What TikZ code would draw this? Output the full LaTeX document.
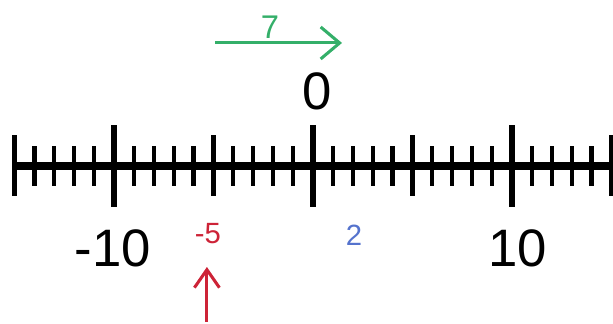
\documentclass[tikz,border=0pt]{standalone}
\usepackage{fontspec}
\setmainfont{Liberation Sans}
\usetikzlibrary{arrows.meta}
\definecolor{stepgreen}{RGB}{52,175,105}
\definecolor{startred}{RGB}{205,35,55}
\definecolor{endblue}{RGB}{85,115,205}

\begin{document}
\begin{tikzpicture}[x=0.597cm,y=0.597cm,
  bignum/.style={font=\fontsize{45}{48}\selectfont,inner sep=0pt},
  smallnum/.style={font=\fontsize{25}{27}\selectfont,inner sep=0pt}]
\useasboundingbox (-15.73,-7.95) rectangle (15.08,8.33);
% ---- number line ----
\draw[line width=6.5pt] (-15,0) -- (15.2,0);
% minor ticks, then longer ones on top
\foreach \k in {-15,...,15}
  \draw[line width=3.6pt] (\k,-1) -- (\k,1);
\foreach \k in {-15,-5,5,15}
  \draw[line width=3.8pt] (\k,-1.52) -- (\k,1.52);
\foreach \k in {-10,0,10}
  \draw[line width=4.5pt] (\k,-2.07) -- (\k,2.07);
% ---- numbers ----
\node[bignum] (zero) at (0.2,3.75) {0};
\node[bignum] (minusten) at (-10.05,-4.14) {-10};
\node[bignum] (ten) at (10.3,-4.14) {10};
\node[smallnum,text=startred] (minusfive) at (-5.28,-3.43) {-5};
\node[smallnum,text=endblue] (two) at (2.06,-3.48) {2};
\node[smallnum,text=stepgreen,font=\fontsize{28}{30}\selectfont] (seven) at (-2.16,6.97) {7};
% ---- green jump of 7 ----
\coordinate (jumpstart) at (-4.92,6.17);
\coordinate (jumpend) at (1.46,6.17);
\draw[stepgreen,line width=2.6pt,-{Straight Barb[length=0.57cm,width=0.96cm]}] (jumpstart) -- (jumpend);
% ---- red start marker ----
\coordinate (markfoot) at (-5.33,-7.85);
\coordinate (markhead) at (-5.33,-5.09);
\draw[startred,line width=2.6pt,-{Straight Barb[length=0.54cm,width=0.75cm]}] (markfoot) -- (markhead);
\end{tikzpicture}
\end{document}
